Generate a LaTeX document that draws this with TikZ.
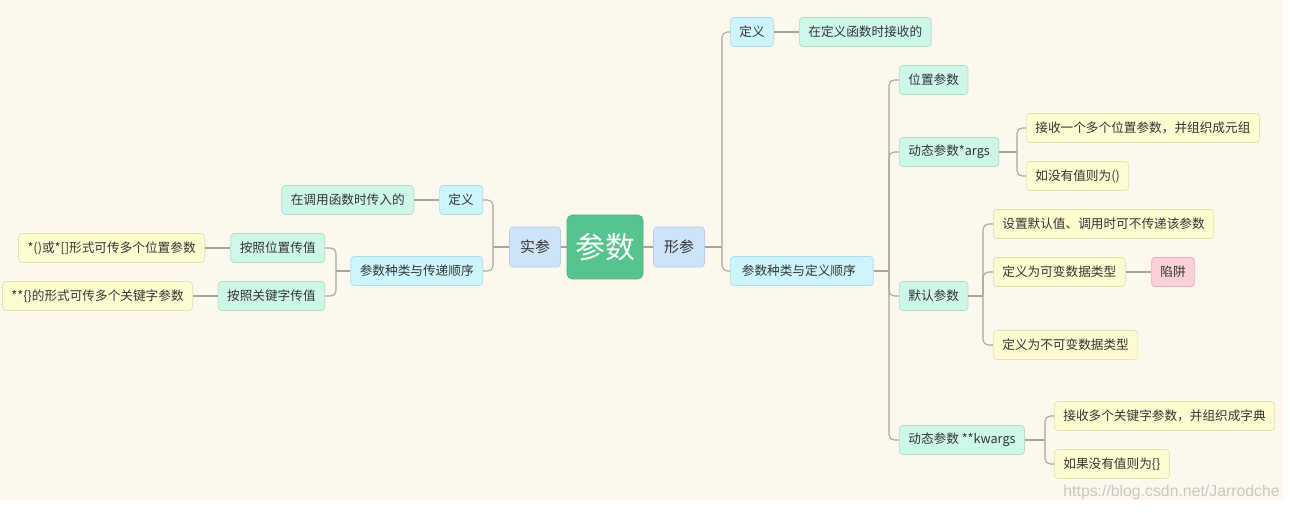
\documentclass[tikz,border=0pt]{standalone}
\usepackage{fontspec}
\setmainfont{Noto Sans CJK SC}
\newfontfamily\urlfont{Liberation Sans}
\usepackage{tikz}
\usetikzlibrary{positioning}
\definecolor{bgc}{RGB}{253,248,238}
\definecolor{txt}{RGB}{51,51,51}
\definecolor{lnk}{RGB}{170,163,155}
\definecolor{rootf}{RGB}{87,195,141}
\definecolor{rootd}{RGB}{75,178,125}
\definecolor{onef}{RGB}{205,227,248}
\definecolor{oned}{RGB}{182,206,230}
\definecolor{twof}{RGB}{204,246,251}
\definecolor{twod}{RGB}{172,222,230}
\definecolor{thrf}{RGB}{205,247,230}
\definecolor{thrd}{RGB}{172,222,200}
\definecolor{fouf}{RGB}{255,251,208}
\definecolor{foud}{RGB}{230,222,176}
\definecolor{trpf}{RGB}{251,209,213}
\definecolor{trpd}{RGB}{228,180,186}

\begin{document}
\begin{tikzpicture}[x=0.02cm,y=-0.02cm,
  box/.style={draw,rounded corners=2pt,line width=0.4pt,minimum height=0.58cm,inner xsep=0.18cm,text=txt,font=\fontsize{7.2}{8}\selectfont},
  root/.style={draw=rootd,fill=rootf,rounded corners=3pt,minimum width=1.52cm,minimum height=1.28cm,text=white,font=\fontsize{17}{18}\selectfont},
  lone/.style={box,draw=oned,fill=onef,minimum width=1.02cm,minimum height=0.8cm,font=\fontsize{8.5}{9}\selectfont},
  ltwo/.style={box,draw=twod,fill=twof},
  lthr/.style={box,draw=thrd,fill=thrf},
  lfou/.style={box,draw=foud,fill=fouf},
  trap/.style={box,draw=trpd,fill=trpf},
  link/.style={draw=lnk,line width=0.6pt,rounded corners=3pt}]
\fill[white] (0,0) rectangle (1290,513);
\fill[bgc] (0,0) rectangle (1283,500);
\useasboundingbox (0,0) rectangle (1290,513);
% centre
\node[root] (cs) at (605,247) {参数};
\node[lone] (sc) at (535,247) {实参};
\node[lone] (xc) at (679,247) {形参};
% left side
\node[ltwo,anchor=east] (sdy) at (483,200) {定义};
\node[lthr,anchor=east] (sdyt) at (414,200) {在调用函数时传入的};
\node[ltwo,anchor=east] (szl) at (483,271) {参数种类与传递顺序};
\node[lthr,anchor=east] (swz) at (325,248) {按照位置传值};
\node[lthr,anchor=east] (sgj) at (325,296) {按照关键字传值};
\node[lfou,anchor=east] (swzt) at (205,248) {*()或*[]形式可传多个位置参数};
\node[lfou,anchor=east] (sgjt) at (193,296) {**\{\}的形式可传多个关键字参数};
% right side
\node[ltwo,anchor=west] (xdy) at (730,32) {定义};
\node[lthr,anchor=west] (xdyt) at (799,32) {在定义函数时接收的};
\node[ltwo,anchor=west,minimum width=2.86cm,align=left,text width=2.4cm] (xzl) at (730,271) {参数种类与定义顺序};
\node[lthr,anchor=west] (wz) at (899,80) {位置参数};
\node[lthr,anchor=west] (dt) at (899,152) {动态参数*args};
\node[lfou,anchor=west] (dta) at (1026,128) {接收一个多个位置参数，并组织成元组};
\node[lfou,anchor=west] (dtb) at (1026,176) {如没有值则为()};
\node[lthr,anchor=west] (mr) at (899,296) {默认参数};
\node[lfou,anchor=west] (mra) at (993,224) {设置默认值、调用时可不传递该参数};
\node[lfou,anchor=west] (mrb) at (993,272) {定义为可变数据类型};
\node[trap,anchor=west] (xj) at (1151,272) {陷阱};
\node[lfou,anchor=west] (mrc) at (993,345) {定义为不可变数据类型};
\node[lthr,anchor=west] (kw) at (899,440) {动态参数 **kwargs};
\node[lfou,anchor=west] (kwa) at (1054,416) {接收多个关键字参数，并组织成字典};
\node[lfou,anchor=west] (kwb) at (1054,464) {如果没有值则为\{\}};
% spines
\coordinate (ss) at (493,247);
\coordinate (zs) at (336,271);
\coordinate (xs) at (722,247);
\coordinate (ys) at (889,271);
\coordinate (ds) at (1017,152);
\coordinate (ms) at (983,296);
\coordinate (ks) at (1045,440);
% connectors
\draw[link] (cs) -- (sc);
\draw[link] (cs) -- (xc);
\draw[link] (sc) -- (ss);
\draw[link] (ss) |- (sdy);
\draw[link] (ss) |- (szl);
\draw[link] (sdy) -- (sdyt);
\draw[link] (szl) -- (zs);
\draw[link] (zs) |- (swz);
\draw[link] (zs) |- (sgj);
\draw[link] (swz) -- (swzt);
\draw[link] (sgj) -- (sgjt);
\draw[link] (xc) -- (xs);
\draw[link] (xs) |- (xdy);
\draw[link] (xs) |- (xzl);
\draw[link] (xdy) -- (xdyt);
\draw[link] (xzl) -- (ys);
\draw[link] (ys) |- (wz);
\draw[link] (ys) |- (dt);
\draw[link] (ys) |- (mr);
\draw[link] (ys) |- (kw);
\draw[link] (dt) -- (ds);
\draw[link] (ds) |- (dta);
\draw[link] (ds) |- (dtb);
\draw[link] (mr) -- (ms);
\draw[link] (ms) |- (mra);
\draw[link] (ms) |- (mrb);
\draw[link] (ms) |- (mrc);
\draw[link] (mrb) -- (xj);
\draw[link] (kw) -- (ks);
\draw[link] (ks) |- (kwa);
\draw[link] (ks) |- (kwb);
% watermark
\node[anchor=south east,inner sep=0pt,text=black!22,font=\urlfont\fontsize{9}{10}\selectfont] (wm) at (1280,500) {https://blog.csdn.net/Jarrodche};
\end{tikzpicture}
\end{document}
